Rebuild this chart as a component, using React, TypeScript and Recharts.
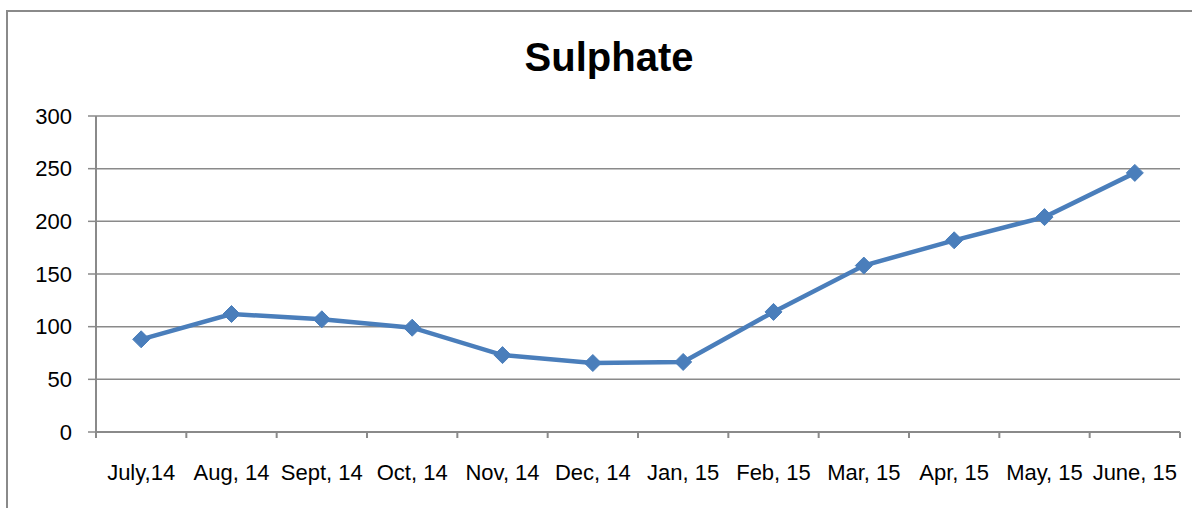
import { CartesianGrid, Line, LineChart, XAxis, YAxis } from "recharts";

// Monthly sulphate readings, July 2014 through June 2015.
const months = [
  "July,14",
  "Aug, 14",
  "Sept, 14",
  "Oct, 14",
  "Nov, 14",
  "Dec, 14",
  "Jan, 15",
  "Feb, 15",
  "Mar, 15",
  "Apr, 15",
  "May, 15",
  "June, 15",
];
const sulphate = [88, 112, 107, 99, 73, 65.5, 66.5, 114, 158, 182, 204, 246];
const yTicks = [0, 50, 100, 150, 200, 250, 300];

// each month sits in the middle of its slot; tick marks sit on the slot edges
const data = months.map((month, i) => ({ x: i + 0.5, month, value: sulphate[i] }));
const xTicks: number[] = [];
for (let i = 0; i <= months.length; i++) {
  xTicks.push(i);
  if (i < months.length) xTicks.push(i + 0.5);
}

const GREY = "#8a8a8a";
const BLUE = "#4a7ebb";
const FONT = '"Liberation Sans", Arial, sans-serif';

function Diamond(props: any) {
  const { cx, cy } = props;
  if (cx == null || cy == null) return null;
  const r = 8.5;
  return (
    <polygon
      points={`${cx},${cy - r} ${cx + r},${cy} ${cx},${cy + r} ${cx - r},${cy}`}
      fill={BLUE}
      stroke={BLUE}
      strokeWidth={1}
    />
  );
}

// whole values get a short tick mark, half values carry the month label
function MonthTick(props: any) {
  const { x, y, payload } = props;
  const v = payload.value as number;
  if (Number.isInteger(v)) {
    return <line x1={x} y1={y} x2={x} y2={y + 6} stroke={GREY} strokeWidth={2} />;
  }
  return (
    <text x={x} y={y + 48} textAnchor="middle" fill="#000" fontSize={22} fontFamily={FONT}>
      {months[Math.floor(v)]}
    </text>
  );
}

export default function App() {
  return (
    <div style={{ position: "absolute", left: 0, top: 0, width: 1192, height: 508, background: "#fff", overflow: "hidden" }}>
      <div
        style={{
          position: "absolute",
          left: 6,
          top: 10,
          width: 1186,
          height: 498,
          borderLeft: `2px solid ${GREY}`,
          borderTop: `2px solid ${GREY}`,
          boxSizing: "border-box",
        }}
      />
      <div
        style={{
          position: "absolute",
          left: 409,
          top: 37,
          width: 400,
          textAlign: "center",
          fontFamily: FONT,
          fontWeight: 700,
          fontSize: 40,
          lineHeight: "40px",
          color: "#000",
        }}
      >
        Sulphate
      </div>
      <div style={{ position: "absolute", left: 0, top: 0 }}>
        <LineChart width={1192} height={508} data={data} margin={{ top: 116, right: 12, bottom: 0, left: 6 }}>
          <CartesianGrid vertical={false} stroke={GREY} strokeWidth={1.5} />
          <XAxis
            type="number"
            dataKey="x"
            domain={[0, months.length]}
            ticks={xTicks}
            interval={0}
            height={76}
            axisLine={{ stroke: GREY, strokeWidth: 2 }}
            tickLine={false}
            tickSize={0}
            tickMargin={0}
            tick={<MonthTick />}
          />
          <YAxis
            domain={[0, 300]}
            ticks={yTicks}
            width={90}
            interval={0}
            axisLine={{ stroke: GREY, strokeWidth: 2 }}
            tickLine={{ stroke: GREY, strokeWidth: 1.5 }}
            tickSize={8}
            tickMargin={16}
            tick={{ fill: "#000", fontSize: 22, fontFamily: FONT }}
          />
          <Line
            type="linear"
            dataKey="value"
            stroke={BLUE}
            strokeWidth={4.5}
            dot={<Diamond />}
            activeDot={false}
            isAnimationActive={false}
          />
        </LineChart>
      </div>
    </div>
  );
}
